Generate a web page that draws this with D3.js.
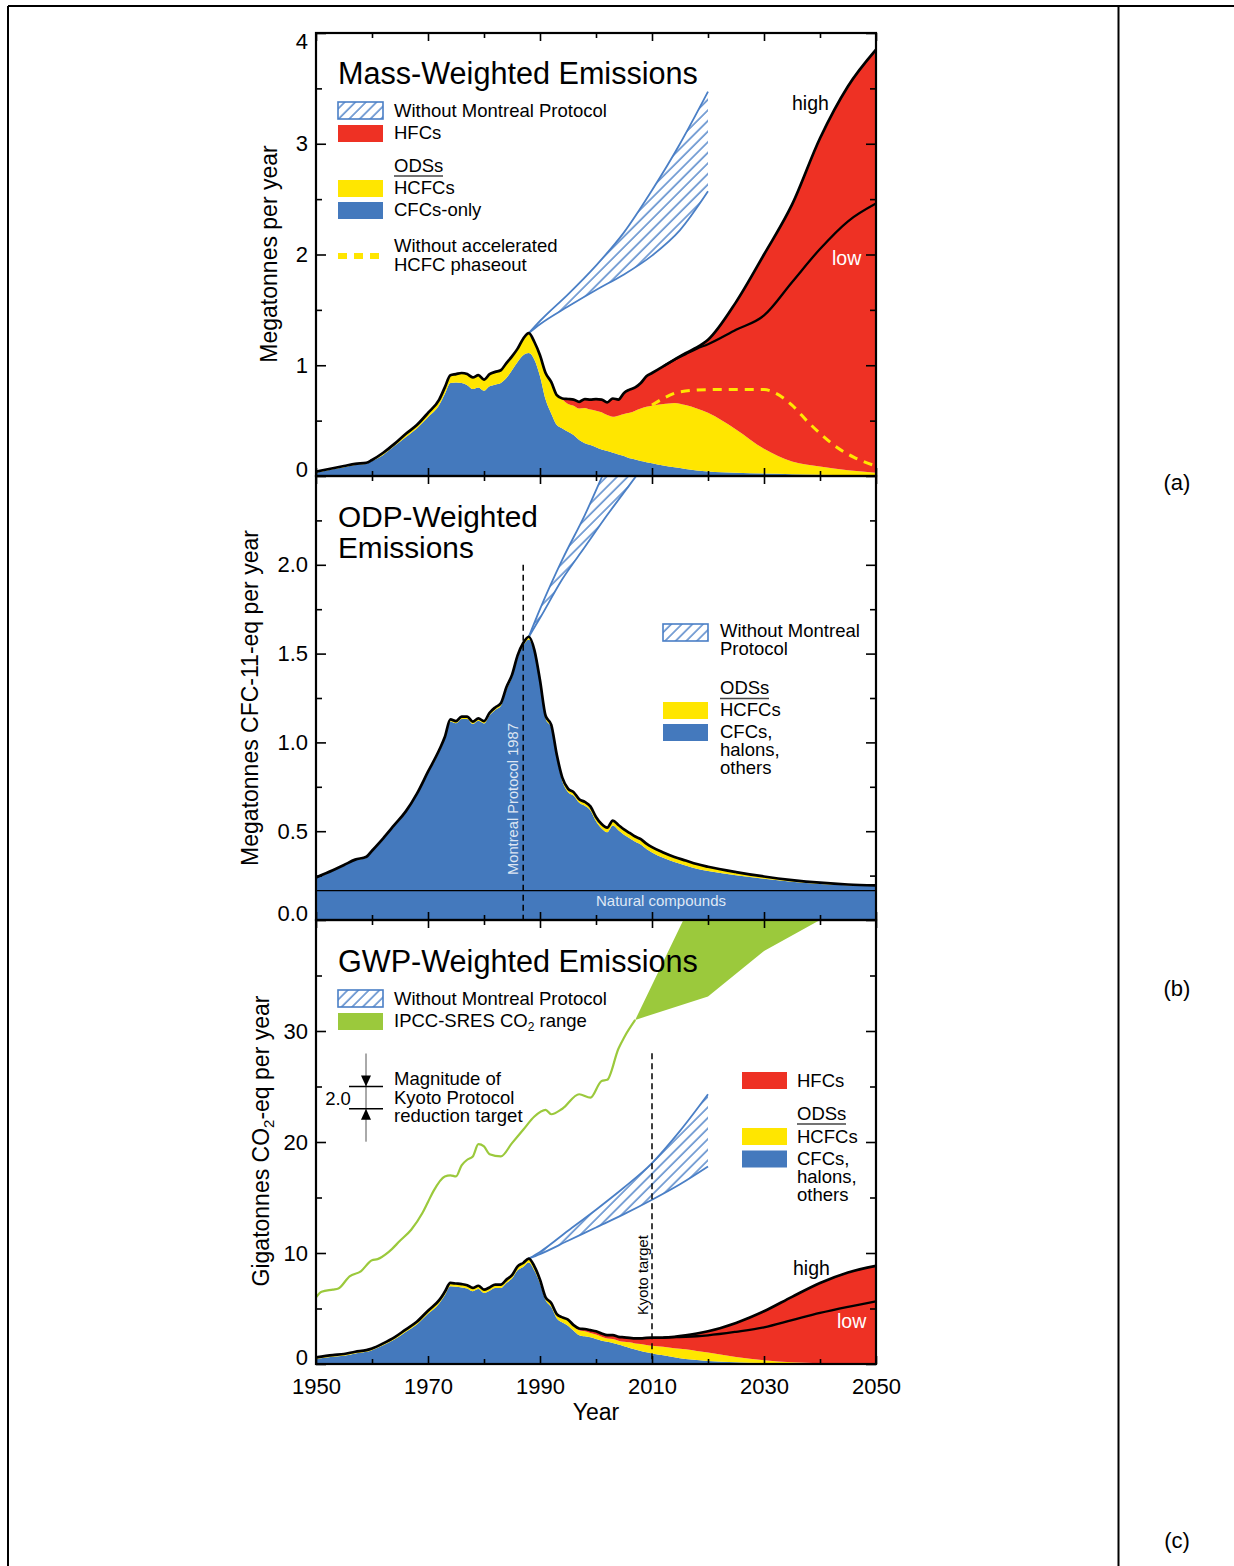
<!DOCTYPE html>
<html>
<head>
<meta charset="utf-8">
<title>Emissions</title>
<script src="https://cdn.jsdelivr.net/npm/d3@7"></script>
<style>
  body { margin: 0; background: #fff; }
  svg { display: block; font-family: "Liberation Sans", Arial, Helvetica, sans-serif; }
</style>
</head>
<body>
<svg width="1234" height="1566"></svg>
<script>
// ---- data ----
const years = [1950,1953,1955,1957,1959,1960,1962,1964,1966,1968,
  1970,1972,1973,1974,1975,1976,1977,1978,1979,1980,
  1981,1982,1983,1984,1985,1986,1987,1988,1989,1990,
  1991,1992,1993,1994,1995,1996,1997,1998,1999,2000,
  2001,2002,2003,2004,2005,2006,2007,2008,2009,2010,
  2012,2014,2016,2018,2020,2025,2030,2035,2040,2045,2050];
const projYears = [2012,2014,2016,2018,2020,2025,2030,2035,2040,2045,2050];

// (a) mass-weighted, Mt/yr (cumulative tops)
const massCfc = [0.03,0.06,0.08,0.10,0.11,0.135,0.19,0.27,0.35,0.43,
  0.53,0.64,0.74,0.84,0.845,0.84,0.82,0.785,0.80,0.77,
  0.81,0.825,0.84,0.885,0.955,1.03,1.09,1.11,1.05,0.90,
  0.69,0.565,0.46,0.43,0.40,0.37,0.325,0.295,0.28,0.26,
  0.24,0.225,0.21,0.195,0.18,0.16,0.15,0.135,0.125,0.115,
  0.095,0.078,0.063,0.05,0.04,0.03,0.022,0.016,0.012,0.01,0.008];
const massOds = [0.04,0.07,0.09,0.11,0.12,0.145,0.21,0.29,0.38,0.46,
  0.57,0.69,0.80,0.91,0.92,0.93,0.92,0.89,0.91,0.87,
  0.92,0.94,0.955,1.02,1.08,1.15,1.24,1.29,1.21,1.09,
  0.93,0.85,0.73,0.69,0.65,0.635,0.61,0.615,0.60,0.59,
  0.575,0.55,0.535,0.545,0.56,0.57,0.59,0.61,0.625,0.635,
  0.65,0.66,0.64,0.61,0.57,0.42,0.245,0.13,0.085,0.052,0.03];
const massHigh = [0.04,0.07,0.09,0.11,0.12,0.145,0.21,0.29,0.38,0.46,
  0.57,0.69,0.80,0.91,0.92,0.93,0.92,0.89,0.91,0.87,
  0.92,0.94,0.955,1.02,1.08,1.15,1.24,1.29,1.21,1.09,
  0.93,0.85,0.73,0.70,0.695,0.69,0.67,0.695,0.69,0.695,
  0.69,0.665,0.70,0.69,0.75,0.78,0.80,0.84,0.90,0.93,
  0.99,1.05,1.11,1.16,1.23,1.57,2.0,2.45,3.05,3.52,3.85];
const massLow = [0.99,1.05,1.10,1.15,1.19,1.32,1.45,1.75,2.05,2.30,2.46];
const massWmpYears = [1988,1990,1995,2000,2005,2010,2015,2020];
const massWmpHigh = [1.29,1.40,1.64,1.90,2.20,2.58,3.0,3.47];
const massWmpLow = [1.29,1.37,1.53,1.68,1.82,1.99,2.22,2.57];
const hcfcBauYears = [2010,2012,2015,2020,2025,2030,2032,2035,2038,2040,2043,2046,2050];
const hcfcBau = [0.64,0.70,0.76,0.78,0.78,0.78,0.75,0.64,0.48,0.385,0.26,0.17,0.09];

// (b) ODP-weighted, Mt CFC-11-eq/yr
const odpNatural = 0.165;
const odpCfc = [0.236,0.276,0.306,0.336,0.351,0.385,0.455,0.529,0.603,0.702,
  0.826,0.946,1.019,1.118,1.108,1.132,1.132,1.104,1.122,1.107,
  1.153,1.183,1.205,1.295,1.365,1.475,1.545,1.58,1.505,1.335,
  1.133,1.083,0.912,0.78,0.72,0.70,0.66,0.643,0.617,0.556,
  0.515,0.494,0.532,0.506,0.48,0.46,0.44,0.425,0.40,0.38,
  0.35,0.326,0.307,0.289,0.276,0.252,0.232,0.215,0.203,0.195,0.191];
const odpTotal = [0.24,0.28,0.31,0.34,0.356,0.39,0.46,0.535,0.61,0.71,
  0.835,0.957,1.03,1.13,1.12,1.145,1.145,1.117,1.135,1.12,
  1.167,1.197,1.22,1.31,1.38,1.49,1.56,1.595,1.52,1.35,
  1.15,1.10,0.93,0.80,0.74,0.72,0.68,0.665,0.64,0.58,
  0.54,0.52,0.56,0.535,0.51,0.49,0.47,0.455,0.43,0.41,
  0.38,0.355,0.335,0.315,0.30,0.27,0.245,0.225,0.21,0.20,0.195];
const odpWmpYears = [1988,1990,1994,1998,2002,2006,2010];
const odpWmpHigh = [1.595,1.75,2.03,2.28,2.56,2.82,3.1];
const odpWmpLow = [1.595,1.70,1.92,2.10,2.28,2.45,2.62];

// (c) GWP-weighted, Gt CO2-eq/yr
const gwpCfc = [0.45,0.65,0.75,0.95,1.1,1.25,1.68,2.2,2.88,3.55,
  4.52,5.45,6.2,7.0,6.95,6.9,6.8,6.55,6.75,6.4,
  6.6,6.85,6.85,7.3,7.7,8.45,8.75,9.15,8.42,7.25,
  5.75,5.15,4.1,3.75,3.45,3.0,2.6,2.5,2.4,2.25,
  2.1,2.0,1.9,1.75,1.6,1.45,1.3,1.18,1.05,0.95,
  0.78,0.6,0.45,0.35,0.27,0.15,0.09,0.05,0.03,0.02,0.01];
const gwpOds = [0.6,0.8,0.9,1.1,1.25,1.4,1.86,2.4,3.1,3.8,
  4.8,5.75,6.5,7.3,7.25,7.2,7.1,6.85,7.05,6.7,
  6.9,7.15,7.15,7.6,8.0,8.8,9.1,9.5,8.8,7.6,
  6.0,5.5,4.5,4.2,4.0,3.4,3.05,2.95,2.8,2.65,
  2.45,2.3,2.25,2.1,2.0,1.95,1.85,1.8,1.72,1.65,
  1.55,1.42,1.33,1.18,1.03,0.64,0.33,0.15,0.07,0.04,0.02];
const gwpHigh = [0.6,0.8,0.9,1.1,1.25,1.4,1.86,2.4,3.1,3.8,
  4.8,5.75,6.5,7.3,7.25,7.2,7.1,6.85,7.05,6.7,
  6.9,7.15,7.15,7.6,8.0,8.8,9.1,9.5,8.8,7.6,
  6.0,5.5,4.5,4.2,4.0,3.5,3.2,3.15,3.05,2.95,
  2.75,2.6,2.6,2.45,2.4,2.35,2.3,2.3,2.35,2.37,
  2.38,2.45,2.58,2.75,2.95,3.7,4.75,6.05,7.3,8.25,8.85];
const gwpLow = [2.38,2.42,2.45,2.5,2.58,2.9,3.3,3.95,4.6,5.15,5.65];
const gwpWmpYears = [1988,1990,1995,2000,2005,2010,2015,2020];
const gwpWmpHigh = [9.5,10.1,12.0,13.9,15.9,18.1,21.0,24.3];
const gwpWmpLow = [9.5,9.9,11.1,12.3,13.5,14.8,16.2,17.8];
const co2Years = [1950,1951,1953,1954,1956,1958,1960,1961,1963,1965,1967,1969,1970,1971,
  1973,1974,1975,1976,1977,1978,1979,1980,1981,1983,1985,1987,1989,1991,1992,1994,
  1997,1999,2001,2002,2004,2005,2007];
const co2Vals = [6.0,6.5,6.7,6.8,7.9,8.35,9.35,9.45,10.1,11.1,12.1,13.6,14.6,15.6,
  16.9,17.0,16.9,17.9,18.4,18.7,19.8,19.6,18.9,18.7,19.9,21.1,22.3,22.9,22.5,23.0,
  24.3,24.0,25.5,25.6,28.4,29.4,31.0];
const sresYears = [2007,2020,2030,2040,2050];
const sresLow = [31.0,33.1,37.2,40.0,43.0];
const sresHigh = [31.0,44.6,55.0,65.0,75.0];
const kyotoYear = 2010, kyotoMagnitude = 2.0;
const montrealYear = 1987;

const xMajor = [1950,1970,1990,2010,2030,2050];
const xMinor = [1960,1980,2000,2020,2040];

// ---- styling ----
const BLUE = "#4479bd", YELLOW = "#ffe600", RED = "#ee3124", GREEN = "#9bc93c", HATCH = "#4a7fc6";

const svg = d3.select("svg");
const x = d3.scaleLinear().domain([1950, 2050]).range([316, 876]);

const defs = svg.append("defs");
const pat = defs.append("pattern").attr("id", "hatch")
  .attr("patternUnits", "userSpaceOnUse").attr("width", 7.5).attr("height", 7.5)
  .attr("patternTransform", "rotate(45)");
pat.append("line").attr("x1", 1).attr("y1", 0).attr("x2", 1).attr("y2", 7.5)
  .attr("stroke", HATCH).attr("stroke-width", 1.4);

// outer frame
svg.append("line").attr("x1", 8).attr("x2", 1234).attr("y1", 6).attr("y2", 6).attr("stroke", "#000").attr("stroke-width", 2);
svg.append("line").attr("x1", 8).attr("x2", 8).attr("y1", 6).attr("y2", 1566).attr("stroke", "#000").attr("stroke-width", 2);
svg.append("line").attr("x1", 1118.5).attr("x2", 1118.5).attr("y1", 6).attr("y2", 1566).attr("stroke", "#000").attr("stroke-width", 2);

function panel(top, bottom, max) {
  const y = d3.scaleLinear().domain([0, max]).range([bottom, top]);
  const id = "clip" + top;
  defs.append("clipPath").attr("id", id).append("rect")
    .attr("x", 316).attr("y", top).attr("width", 560).attr("height", bottom - top);
  const g = svg.append("g");
  const plot = g.append("g").attr("clip-path", `url(#${id})`);
  return { y, g, plot, top, bottom };
}

const val = (v, i) => (typeof v === "number" ? v : v[i]);

function area(p, yrs, lo, hi, fill, curve) {
  const a = d3.area().curve(curve || d3.curveMonotoneX)
    .x((d, i) => x(yrs[i])).y0((d, i) => p.y(val(lo, i))).y1((d, i) => p.y(val(hi, i)));
  return p.plot.append("path").attr("d", a(yrs)).attr("fill", fill);
}

function line(p, yrs, vals, stroke, width, dash) {
  const l = d3.line().curve(d3.curveMonotoneX).x((d, i) => x(yrs[i])).y((d, i) => p.y(vals[i]));
  p.plot.append("path").attr("d", l(yrs)).attr("fill", "none")
    .attr("stroke", stroke).attr("stroke-width", width)
    .attr("stroke-dasharray", dash || null).attr("stroke-linejoin", "round");
}

function hatchBand(p, yrs, lo, hi) {
  area(p, yrs, lo, hi, "url(#hatch)");
  line(p, yrs, hi, HATCH, 1.8);
  line(p, yrs, lo, HATCH, 1.8);
}

function axes(p, major, minor, fmt, showX) {
  const ax = p.g.append("g");
  const style = s => {
    s.select(".domain").remove();
    s.attr("font-family", null).attr("font-size", null);
    s.selectAll("line").attr("stroke", "#000").attr("stroke-width", 1.6);
    s.selectAll("text").attr("fill", "#000").attr("font-size", 22);
  };
  ax.append("g").attr("transform", "translate(316,0)")
    .call(d3.axisLeft(p.y).tickValues(major).tickSize(-10).tickPadding(8).tickFormat(fmt)).call(style)
    .selectAll("text")
    .attr("transform", d => d === 0 ? "translate(0,-7)" : d === p.y.domain()[1] ? "translate(0,8)" : null);
  ax.append("g").attr("transform", "translate(316,0)")
    .call(d3.axisLeft(p.y).tickValues(minor).tickSize(-6).tickFormat("")).call(style);
  ax.append("g").attr("transform", "translate(876,0)")
    .call(d3.axisRight(p.y).tickValues(major).tickSize(-10).tickFormat("")).call(style);
  ax.append("g").attr("transform", "translate(876,0)")
    .call(d3.axisRight(p.y).tickValues(minor).tickSize(-6).tickFormat("")).call(style);
  ax.append("g").attr("transform", `translate(0,${p.bottom})`)
    .call(d3.axisBottom(x).tickValues(xMajor).tickSize(-8).tickPadding(14)
      .tickFormat(showX ? d3.format("d") : "")).call(style);
  ax.append("g").attr("transform", `translate(0,${p.bottom})`)
    .call(d3.axisBottom(x).tickValues(xMinor).tickSize(-5).tickFormat("")).call(style);
  ax.append("g").attr("transform", `translate(0,${p.top})`)
    .call(d3.axisTop(x).tickValues(xMajor).tickSize(-8).tickFormat("")).call(style);
  ax.append("g").attr("transform", `translate(0,${p.top})`)
    .call(d3.axisTop(x).tickValues(xMinor).tickSize(-5).tickFormat("")).call(style);
  p.g.append("rect").attr("x", 316).attr("y", p.top).attr("width", 560).attr("height", p.bottom - p.top)
    .attr("fill", "none").attr("stroke", "#000").attr("stroke-width", 2.2);
}

function text(g, x0, y0, lines, size, fill, lh) {
  const t = g.append("text").attr("x", x0).attr("y", y0).attr("font-size", size).attr("fill", fill || "#000");
  lines.forEach((s, i) => t.append("tspan").attr("x", x0).attr("dy", i ? lh : 0).text(s));
  return t;
}

function swatch(g, x0, y0, fill, hatched) {
  g.append("rect").attr("x", x0).attr("y", y0).attr("width", 45).attr("height", 17)
    .attr("fill", hatched ? "url(#hatch)" : fill)
    .attr("stroke", hatched ? HATCH : "none").attr("stroke-width", 1.6);
}

function underlined(g, x0, y0, s, w) {
  text(g, x0, y0, [s], 18.5);
  g.append("line").attr("x1", x0).attr("x2", x0 + w).attr("y1", y0 + 4.5).attr("y2", y0 + 4.5)
    .attr("stroke", "#444").attr("stroke-width", 1.3);
}

function yTitle(cx, cy, build) {
  const t = svg.append("text").attr("transform", `translate(${cx},${cy}) rotate(-90)`)
    .attr("text-anchor", "middle").attr("font-size", 23);
  build(t);
}

// ===== panel (a) =====
const pa = panel(33, 476, 4);
area(pa, years, 0, massCfc, BLUE);
area(pa, years, massCfc, massOds, YELLOW);
area(pa, years, massOds, massHigh, RED);
hatchBand(pa, massWmpYears, massWmpLow, massWmpHigh);
line(pa, hcfcBauYears, hcfcBau, YELLOW, 3, "9,7");
line(pa, years, massHigh, "#000", 2.7);
line(pa, projYears, massLow, "#000", 2.3);
axes(pa, [0, 1, 2, 3, 4], [0.5, 1.5, 2.5, 3.5], d3.format("d"), false);

text(pa.g, 338, 84, ["Mass-Weighted Emissions"], 30.6);
swatch(pa.g, 338, 102, null, true);
text(pa.g, 394, 117, ["Without Montreal Protocol"], 18.5);
swatch(pa.g, 338, 125, RED);
text(pa.g, 394, 139, ["HFCs"], 18.5);
underlined(pa.g, 394, 171.5, "ODSs", 49);
swatch(pa.g, 338, 180, YELLOW);
text(pa.g, 394, 194, ["HCFCs"], 18.5);
swatch(pa.g, 338, 202, BLUE);
text(pa.g, 394, 216, ["CFCs-only"], 18.5);
pa.g.append("line").attr("x1", 338).attr("x2", 379).attr("y1", 256).attr("y2", 256)
  .attr("stroke", YELLOW).attr("stroke-width", 6).attr("stroke-dasharray", "9,7");
text(pa.g, 394, 252, ["Without accelerated", "HCFC phaseout"], 18.5, "#000", 19);
text(pa.g, 792, 110, ["high"], 19.5);
text(pa.g, 832, 265, ["low"], 19.5, "#fff");

// ===== panel (b) =====
const pb = panel(476, 920, 2.5);
area(pb, years, 0, odpCfc, BLUE);
area(pb, years, odpCfc, odpTotal, YELLOW);
hatchBand(pb, odpWmpYears, odpWmpLow, odpWmpHigh);
line(pb, years, odpTotal, "#000", 2.7);
pb.plot.append("line").attr("x1", 316).attr("x2", 876)
  .attr("y1", pb.y(odpNatural)).attr("y2", pb.y(odpNatural)).attr("stroke", "#000").attr("stroke-width", 1.3);
pb.plot.append("line").attr("x1", x(montrealYear)).attr("x2", x(montrealYear))
  .attr("y1", pb.y(2.0)).attr("y2", 920).attr("stroke", "#000").attr("stroke-width", 1.5).attr("stroke-dasharray", "6,4");
axes(pb, [0, 0.5, 1, 1.5, 2], [0.25, 0.75, 1.25, 1.75, 2.25], d3.format(".1f"), false);

text(pb.g, 338, 527, ["ODP-Weighted", "Emissions"], 29.8, "#000", 31);
pb.g.append("text").attr("transform", `translate(${x(montrealYear) - 5},875) rotate(-90)`)
  .attr("font-size", 14.7).attr("fill", "#dde6f3").text("Montreal Protocol 1987");
pb.g.append("text").attr("x", 661).attr("y", 906).attr("text-anchor", "middle")
  .attr("font-size", 15).attr("fill", "#dfe8f5").text("Natural compounds");
swatch(pb.g, 663, 624, null, true);
text(pb.g, 720, 637, ["Without Montreal", "Protocol"], 18.5, "#000", 18);
underlined(pb.g, 720, 694, "ODSs", 49);
swatch(pb.g, 663, 702, YELLOW);
text(pb.g, 720, 716, ["HCFCs"], 18.5);
swatch(pb.g, 663, 724, BLUE);
text(pb.g, 720, 738, ["CFCs,", "halons,", "others"], 18.5, "#000", 18);

// ===== panel (c) =====
const pc = panel(920, 1364, 40);
area(pc, sresYears, sresLow, sresHigh, GREEN, d3.curveLinear);
line(pc, co2Years, co2Vals, GREEN, 2.2);
area(pc, years, 0, gwpCfc, BLUE);
area(pc, years, gwpCfc, gwpOds, YELLOW);
area(pc, years, gwpOds, gwpHigh, RED);
hatchBand(pc, gwpWmpYears, gwpWmpLow, gwpWmpHigh);
line(pc, years, gwpHigh, "#000", 2.7);
line(pc, projYears, gwpLow, "#000", 2.3);
pc.plot.append("line").attr("x1", x(kyotoYear)).attr("x2", x(kyotoYear))
  .attr("y1", pc.y(28)).attr("y2", 1364).attr("stroke", "#000").attr("stroke-width", 1.5).attr("stroke-dasharray", "6,4");
axes(pc, [0, 10, 20, 30], [5, 15, 25, 35], d3.format("d"), true);

text(pc.g, 338, 972, ["GWP-Weighted Emissions"], 30.6);
swatch(pc.g, 338, 990, null, true);
text(pc.g, 394, 1005, ["Without Montreal Protocol"], 18.5);
swatch(pc.g, 338, 1013, GREEN);
const ipcc = text(pc.g, 394, 1027, ["IPCC-SRES CO"], 18.5);
ipcc.append("tspan").attr("font-size", 12).attr("dy", 4).text("2");
ipcc.append("tspan").attr("dy", -4).text(" range");

// Kyoto magnitude marker
const kTop = pc.y(25), kBot = pc.y(25 - kyotoMagnitude);
pc.g.append("line").attr("x1", 366).attr("x2", 366).attr("y1", kTop - 33).attr("y2", kBot + 33)
  .attr("stroke", "#555").attr("stroke-width", 1);
[kTop, kBot].forEach(v => pc.g.append("line").attr("x1", 349).attr("x2", 383).attr("y1", v).attr("y2", v)
  .attr("stroke", "#000").attr("stroke-width", 1.6));
pc.g.append("path").attr("d", `M361,${kTop - 11}L371,${kTop - 11}L366,${kTop}Z`).attr("fill", "#000");
pc.g.append("path").attr("d", `M361,${kBot + 11}L371,${kBot + 11}L366,${kBot}Z`).attr("fill", "#000");
pc.g.append("text").attr("x", 338).attr("y", 1105).attr("text-anchor", "middle").attr("font-size", 18.5)
  .text(d3.format(".1f")(kyotoMagnitude));
text(pc.g, 394, 1085, ["Magnitude of", "Kyoto Protocol", "reduction target"], 18.5, "#000", 18.5);

pc.g.append("text").attr("transform", `translate(${x(kyotoYear) - 4.5},1315) rotate(-90)`)
  .attr("font-size", 14.8).text("Kyoto target");

swatch(pc.g, 742, 1072, RED);
text(pc.g, 797, 1087, ["HFCs"], 18.5);
underlined(pc.g, 797, 1119.5, "ODSs", 49);
swatch(pc.g, 742, 1128, YELLOW);
text(pc.g, 797, 1143, ["HCFCs"], 18.5);
swatch(pc.g, 742, 1150.5, BLUE);
text(pc.g, 797, 1165, ["CFCs,", "halons,", "others"], 18.5, "#000", 18);
text(pc.g, 793, 1275, ["high"], 19.5);
text(pc.g, 837, 1328, ["low"], 19.5, "#fff");

// axis titles
yTitle(277, 254, t => t.text("Megatonnes per year"));
yTitle(258, 698, t => t.text("Megatonnes CFC-11-eq per year"));
yTitle(269, 1141, t => {
  t.append("tspan").text("Gigatonnes CO");
  t.append("tspan").attr("font-size", 15).attr("dy", 5).text("2");
  t.append("tspan").attr("dy", -5).text("-eq per year");
});
svg.append("text").attr("x", 596).attr("y", 1420).attr("text-anchor", "middle").attr("font-size", 23).text("Year");

// panel letters
[["(a)", 490], ["(b)", 996], ["(c)", 1548]].forEach(([s, yy]) =>
  svg.append("text").attr("x", 1177).attr("y", yy).attr("text-anchor", "middle").attr("font-size", 22).text(s));
</script>
</body>
</html>
